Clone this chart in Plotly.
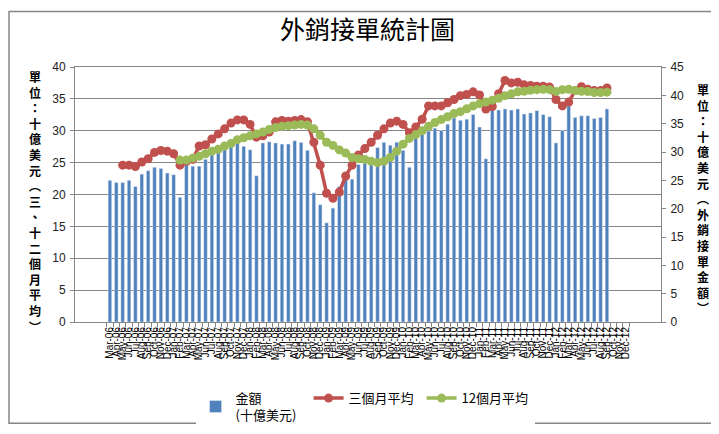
import pandas as pd
import plotly.graph_objects as go

# monthly categories Mar-06 .. Dec-12
months = list(pd.date_range("2006-03-01", "2012-12-01", freq="MS").strftime("%b-%y"))

# 外銷接單金額 (十億美元), Mar-06 .. Sep-12, read on the right axis
orders = [
    25.0, 24.6, 24.6, 25.0, 23.9, 26.1, 26.7, 27.3, 27.1, 26.3, 26.0, 22.0,
    27.7, 27.5, 27.5, 28.7, 29.5, 30.0, 30.4, 32.2, 31.9, 31.0, 30.4, 25.8,
    31.6, 31.8, 31.6, 31.4, 31.4, 32.0, 31.7, 30.3, 22.8, 20.7, 17.5, 20.1,
    23.9, 25.2, 25.2, 27.8, 28.1, 27.8, 30.8, 31.7, 31.2, 31.7, 30.3, 27.3,
    32.4, 33.2, 33.7, 34.2, 33.8, 34.9, 36.0, 35.6, 35.8, 36.6, 34.4, 28.8,
    37.6, 37.4, 37.6, 37.4, 37.6, 36.7, 36.9, 37.3, 36.6, 36.2, 31.6, 33.8,
    38.1, 36.1, 36.4, 36.4, 35.9, 36.1, 37.6,
]

# 三個月平均, May-06 .. Sep-12 (left axis)
avg3 = [
    24.6, 24.6, 24.4, 25.1, 25.6, 26.6, 26.9, 26.8, 26.4, 24.6,
    25.2, 25.5, 27.6, 27.8, 28.7, 29.5, 30.3, 31.2, 31.7, 31.7, 31.0, 29.0,
    29.2, 29.8, 31.4, 31.6, 31.5, 31.6, 31.75, 31.4, 28.2, 24.6, 20.2, 19.4,
    20.4, 22.9, 24.6, 26.2, 27.2, 28.2, 29.3, 30.3, 31.2, 31.5, 31.0, 29.7,
    30.6, 31.8, 33.9, 33.9, 33.9, 34.4, 34.9, 35.5, 35.7, 36.1, 35.6, 33.4,
    33.8, 35.8, 37.9, 37.5, 37.6, 37.2, 37.1, 37.0, 37.0, 36.85, 34.9, 33.9,
    34.5, 36.3, 36.9, 36.5, 36.3, 36.3, 36.7,
]

# 12個月平均, Feb-07 .. Sep-12 (left axis)
avg12 = [
    25.4,
    25.4, 25.7, 26.0, 26.4, 26.8, 27.1, 27.6, 28.0, 28.6, 28.9, 29.2, 29.5,
    29.8, 30.2, 30.5, 30.7, 30.8, 30.9, 31.0, 30.9, 30.3, 29.3, 28.2, 27.7,
    27.0, 26.5, 25.8, 25.6, 25.5, 25.2, 25.0, 25.2, 25.8, 26.8, 27.9, 28.8,
    29.4, 30.0, 30.7, 31.3, 31.75, 32.2, 32.7, 33.0, 33.45, 33.9, 34.25, 34.5,
    34.8, 35.1, 35.5, 35.8, 36.1, 36.2, 36.35, 36.45, 36.5, 36.45, 36.15, 36.45,
    36.5, 36.3, 36.2, 36.15, 36.0, 36.0, 36.05,
]

n = len(months)
bars_y = orders + [None] * (n - len(orders))
red_y = [None] * 2 + avg3 + [None] * (n - 2 - len(avg3))
green_y = [None] * 11 + avg12 + [None] * (n - 11 - len(avg12))

# vertical (stacked) axis titles
left_title = "單位：十億美元︵三、十二個月平均︶"
right_title = "單位：十億美元︵外銷接單金額︶"

L, R, T, B = 67, 66, 59, 108
W, H = 719, 434
PW, PH = W - L - R, H - T - B


def px_x(x):
    return (x - L) / PW


def px_y(y):
    return (H - B - y) / PH


CJK = "Noto Sans CJK TC"
GRID = "#868686"

fig = go.Figure()
fig.add_trace(go.Bar(
    x=months, y=bars_y, name="金額<br>(十億美元)",
    marker_color="#4F81BD", yaxis="y",
))
fig.add_trace(go.Scatter(
    x=months, y=red_y, name="三個月平均", mode="lines+markers",
    line=dict(color="#C0504D", width=3.5),
    marker=dict(color="#C0504D", size=9), yaxis="y2",
))
fig.add_trace(go.Scatter(
    x=months, y=green_y, name="12個月平均", mode="lines+markers",
    line=dict(color="#9BBB59", width=3.5),
    marker=dict(color="#9BBB59", size=9), yaxis="y2",
))

annotations = [
    dict(text="<b>" + "<br>".join(left_title) + "</b>", x=px_x(27), y=px_y(200),
         xref="paper", yref="paper", showarrow=False, xanchor="center", yanchor="middle",
         font=dict(family=CJK, size=12, color="black")),
    dict(text="<b>" + "<br>".join(right_title) + "</b>", x=px_x(695), y=px_y(197),
         xref="paper", yref="paper", showarrow=False, xanchor="center", yanchor="middle",
         font=dict(family=CJK, size=12, color="black")),
]

fig.update_layout(
    width=W, height=H,
    margin=dict(l=L, r=R, t=T, b=B),
    plot_bgcolor="white", paper_bgcolor="white",
    bargap=0.44,
    title=dict(text="外銷接單統計圖", x=0.5, xanchor="center", y=1 - 22 / H, yanchor="middle",
               font=dict(family=CJK, size=25, color="black")),
    xaxis=dict(type="category", tickmode="array", tickvals=months, ticktext=months,
               tickangle=-90, tickfont=dict(family="Liberation Sans", size=10, color="black"),
               showline=True, linecolor=GRID, mirror=True, ticks="outside", ticklen=4,
               tickcolor=GRID, tickson="boundaries", showgrid=False),
    yaxis=dict(range=[0, 45], side="right", dtick=5, showgrid=False, zeroline=False,
               showline=True, linecolor=GRID, ticks="outside", ticklen=4, tickcolor=GRID,
               ticklabelstandoff=2, tickfont=dict(family="Liberation Sans", size=12, color="#222")),
    yaxis2=dict(range=[0, 40], side="left", overlaying="y", dtick=5, showgrid=True,
                gridcolor=GRID, zeroline=False, showline=True, linecolor=GRID,
                ticks="outside", ticklen=4, tickcolor=GRID, ticklabelstandoff=2,
                tickfont=dict(family="Liberation Sans", size=12, color="#222")),
    legend=dict(orientation="h", x=0.495, xanchor="center", y=px_y(390), yanchor="top",
                font=dict(family=CJK, size=13, color="black"), itemwidth=30,
                entrywidth=68, traceorder="normal"),
    annotations=annotations,
    shapes=[dict(type="rect", xref="paper", yref="paper",
                 x0=px_x(1), x1=px_x(717), y0=px_y(432), y1=px_y(1),
                 line=dict(color=GRID, width=1.5))],
)

fig.write_html("out.html")
